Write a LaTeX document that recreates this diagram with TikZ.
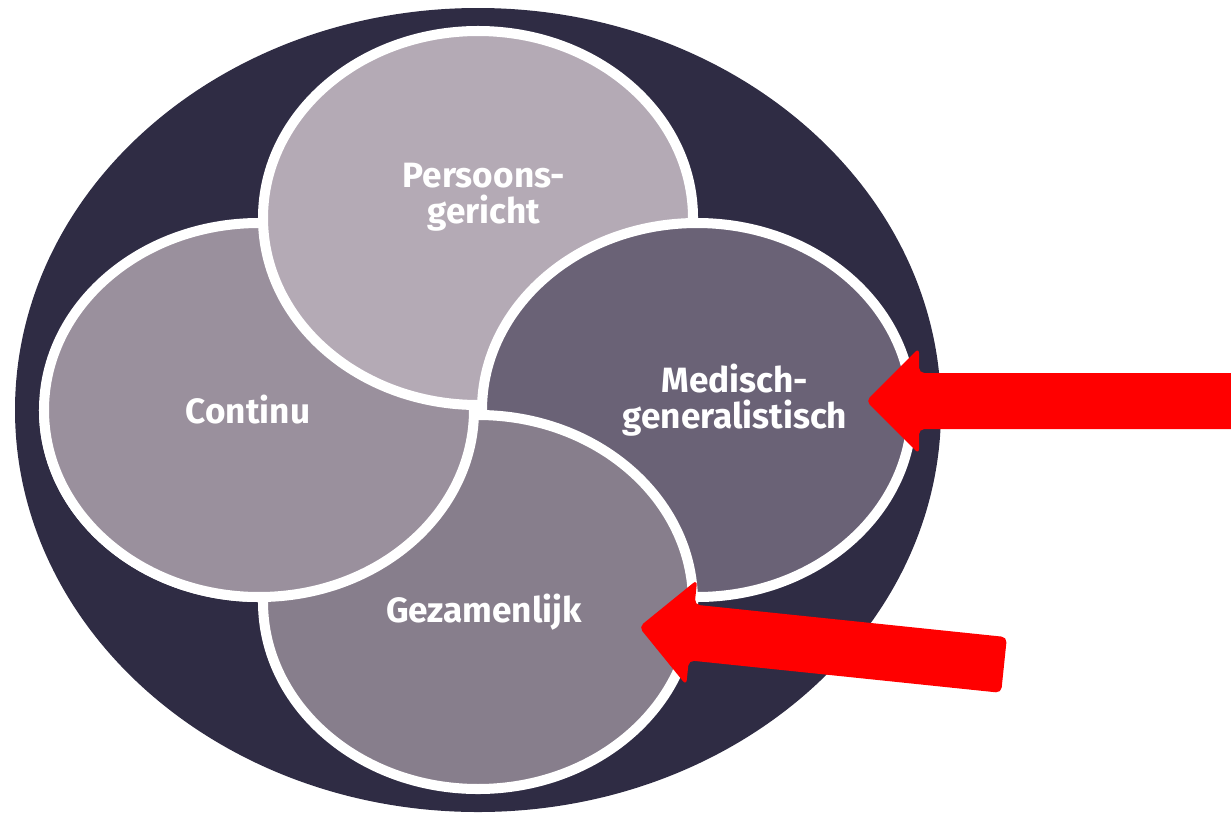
\documentclass[tikz,border=0pt]{standalone}
\usepackage{fontspec}
\setmainfont{Fira Sans}
\usetikzlibrary{calc}
\definecolor{outerc}{HTML}{2F2C44}
\definecolor{persc}{HTML}{B4AAB5}
\definecolor{contc}{HTML}{9A909D}
\definecolor{medc}{HTML}{6A6276}
\definecolor{gezc}{HTML}{877E8C}
\begin{document}
\begin{tikzpicture}[x=0.01cm,y=-0.01cm,
 petal/.style={draw=white,line width=2.85pt},
 lbl/.style={text=white,font=\bfseries\fontsize{10}{10.3}\selectfont,align=center,inner sep=0pt},
 bigarrow/.style={fill=red,rounded corners=1.5pt}]
\useasboundingbox (0,0) rectangle (1231,815);
\fill[outerc] (478,410) ellipse [x radius=463,y radius=402];
\foreach \n/\x/\y/\c in {left/259/410/contc,top/478/218/persc,right/697/410/medc,bot/478/602/gezc}{
  \coordinate (\n) at (\x,\y);
  \draw[petal,fill=\c] (\n) ellipse [x radius=215,y radius=187];
}
% left one again over the bottom one
\begin{scope}
  \clip (0,410) rectangle (700,815);
  \draw[petal,fill=contc] (left) ellipse [x radius=215,y radius=187];
\end{scope}
\node[lbl] (persL) at ($(top)+(6,-21)$) {Persoons-\\gericht};
\node[lbl] (contL) at ($(left)+(-11,0)$) {Continu};
\node[lbl] (medL) at ($(right)+(38,-10)$) {Medisch-\\generalistisch};
\node[lbl] (gezL) at ($(bot)+(6,10)$) {Gezamenlijk};
% arrows
\coordinate (tipM) at (866,401);
\coordinate (tipG) at (639,627);
\foreach \t/\ang/\len in {tipM/0/372,tipG/-5.94/367}
  \fill[bigarrow,shift={(\t)},rotate=\ang] (0,0) -- (53,-53) -- (53,-28) -- (\len,-28) -- (\len,28) -- (53,28) -- (53,53) -- cycle;
\end{tikzpicture}
\end{document}
